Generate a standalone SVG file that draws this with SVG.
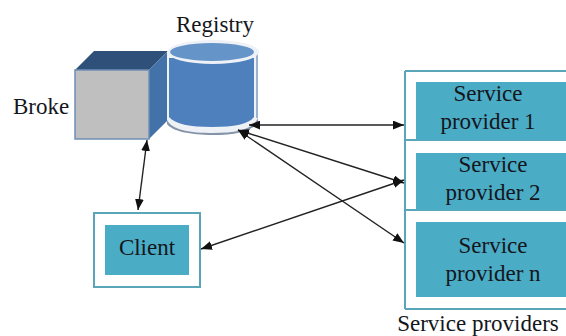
<svg xmlns="http://www.w3.org/2000/svg" width="566" height="336" viewBox="0 0 566 336">
<style>
text{font-family:"Liberation Serif","Times New Roman",serif;font-size:23px;fill:#14161c;text-anchor:middle}
.out{fill:#fff;stroke:#5aa5b8;stroke-width:2}
.box{fill:#4bacc6}
.c{stroke:#222;stroke-width:1.4;fill:none;marker-start:url(#a);marker-end:url(#a)}
</style>
<defs><marker id="a" viewBox="0 0 10 8" refX="10" refY="4" markerWidth="11" markerHeight="9" markerUnits="userSpaceOnUse" orient="auto-start-reverse"><path d="M0 0L10 4L0 8Z" fill="#111"/></marker></defs>
<rect width="566" height="336" fill="#fff"/>
<g id="providers">
<path class="out" d="M405 71H566M405 140H566M405 210H566M405 309H566M405 71V309" fill="none"/>
<text x="478" y="331">Service providers</text>
</g>
<g id="provider1"><rect class="box" x="416" y="82" width="150" height="58"/><text x="488" y="101">Service</text><text x="488" y="129">provider 1</text></g>
<g id="provider2"><rect class="box" x="416" y="153" width="150" height="57"/><text x="493" y="172">Service</text><text x="493" y="200">provider 2</text></g>
<g id="providern"><rect class="box" x="416" y="222" width="150" height="75"/><text x="493" y="253">Service</text><text x="493" y="281">provider n</text></g>
<g id="broke">
<path d="M75 70L94 51H168L149 70Z" fill="#2f5078"/>
<path d="M149 70L168 51V120L149 139Z" fill="#4272a8"/>
<rect x="75" y="70" width="74" height="69" fill="#bfbfbf" stroke="#6f8fb5" stroke-width="1.5"/>
<text x="41" y="114">Broke</text>
</g>
<g id="registry">
<path d="M167 52V122C172 130 190 134 213 134C236 134 253 130 258 122V52Z" fill="#eef1f6"/>
<path d="M167 120C172 130 190 133 213 133C236 133 253 130 258 118V122C253 131 236 135 213 135C190 135 172 131 167 124Z" fill="#8493a8"/>
<path d="M169 58V117C175 124 190 127 212 127C234 127 249 124 254 117V58Z" fill="#4d80bd"/>
<path d="M257 52V118" stroke="#7f9cc4" stroke-width="1.5"/>
<ellipse cx="213" cy="52" rx="46" ry="12" fill="#eef1f6"/>
<ellipse cx="212" cy="52" rx="42" ry="9" fill="#6594c9"/>
<text x="215" y="32">Registry</text>
</g>
<g id="client"><rect class="out" x="94" y="213" width="106" height="74"/><rect class="box" x="105" y="225" width="84" height="50"/><text x="147" y="255">Client</text></g>
<g id="connectors">
<path class="c" d="M147 140L138 210"/>
<path class="c" d="M249 125L404 125"/>
<path class="c" d="M238 130L404 183"/>
<path class="c" d="M238 130L404 243"/>
<path class="c" d="M201 249L404 180"/>
</g>
</svg>
